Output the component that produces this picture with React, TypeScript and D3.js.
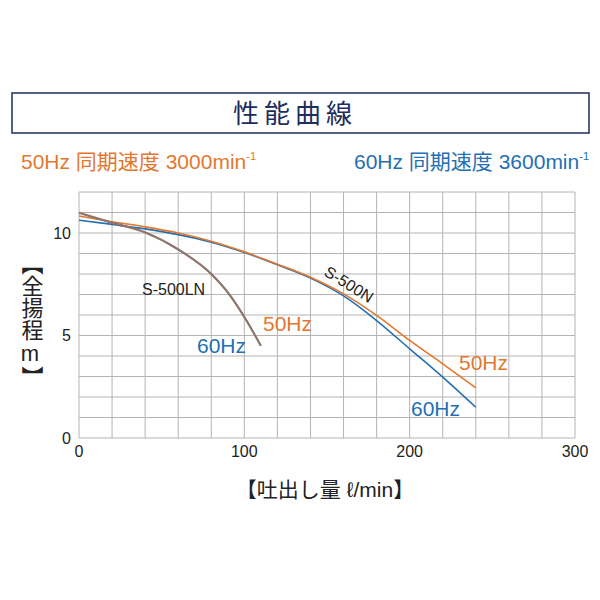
import React from 'react';
import * as d3 from 'd3';

// Performance curves (flow l/min, total head m)
const flowN = [0, 20, 40, 60, 80, 100, 120, 140, 160, 180, 200, 220, 240];
const headN50 = [10.83, 10.55, 10.3, 10.0, 9.6, 9.08, 8.48, 7.84, 7.03, 5.98, 4.76, 3.62, 2.45];
const headN60 = [10.62, 10.42, 10.2, 9.92, 9.55, 9.05, 8.45, 7.8, 6.93, 5.73, 4.35, 2.97, 1.5];

const flowLN = [0, 20, 40, 60, 80, 90, 100, 110];
const headLN50 = [11.0, 10.5, 10.03, 9.2, 8.0, 7.1, 5.9, 4.5];
const headLN60 = [10.98, 10.5, 10.03, 9.2, 8.0, 7.1, 5.9, 4.5];

const xTicks = [0, 100, 200, 300];
const yTicks = [0, 5, 10];

const ORANGE = '#e3772f';
const BLUE = '#2470b3';
const NAVY = '#1c2d5e';
const FONT = '"Liberation Sans", "Noto Sans CJK JP", sans-serif';

const App = () => {
    const x = d3.scaleLinear().domain([0, 300]).range([79, 575]);
    const y = d3.scaleLinear().domain([0, 12]).range([438, 192]);

    const line = (xs: number[], ys: number[]) =>
        d3.line<number>()
            .x((_, i) => x(xs[i]))
            .y(d => y(d))
            .curve(d3.curveMonotoneX)(ys) || '';

    const vGrid = d3.range(0, 301, 20);
    const hGrid = d3.range(0, 13, 1);

    return (
        <svg width={600} height={600} style={{ position: 'absolute', left: 0, top: 0, background: '#fff' }} fontFamily={FONT}>
            {/* title box */}
            <rect x={12} y={93} width={577} height={40} fill="none" stroke={NAVY} strokeWidth={1.5} />
            <text x={295} y={123} textAnchor="middle" fontSize={26} fontWeight={400} letterSpacing={5}
                fontFamily='"Noto Sans CJK JP", sans-serif' fill={NAVY}>性能曲線</text>

            {/* speed headers */}
            <text x={21} y={169} fontSize={21} fill={ORANGE}>
                50Hz 同期速度 3000min<tspan fontSize={11} dy={-9}>-1</tspan>
            </text>
            <text x={589} y={169} textAnchor="end" fontSize={21} fill={BLUE}>
                60Hz 同期速度 3600min<tspan fontSize={11} dy={-9}>-1</tspan>
            </text>

            {/* grid */}
            <g stroke="#b4b4b4" strokeWidth={1}>
                {vGrid.map(v => <line key={'v' + v} x1={x(v)} x2={x(v)} y1={y(0)} y2={y(12)} />)}
                {hGrid.map(h => <line key={'h' + h} x1={x(0)} x2={x(300)} y1={y(h)} y2={y(h)} />)}
            </g>

            {/* tick labels */}
            {yTicks.map(t => (
                <text key={'yt' + t} x={71} y={y(t)} dy="0.35em" textAnchor="end" fontSize={16} fill="#222">{t}</text>
            ))}
            {xTicks.map(t => (
                <text key={'xt' + t} x={x(t)} y={457} textAnchor="middle" fontSize={16} fill="#222">{t}</text>
            ))}

            {/* curves */}
            <path d={line(flowN, headN60)} fill="none" stroke={BLUE} strokeWidth={1.6} />
            <path d={line(flowN, headN50)} fill="none" stroke={ORANGE} strokeWidth={1.6} />
            <path d={line(flowLN, headLN60)} fill="none" stroke={BLUE} strokeWidth={2} />
            <path d={line(flowLN, headLN50)} fill="none" stroke={ORANGE} strokeWidth={2} strokeOpacity={0.6} />

            {/* curve labels */}
            <text x={142} y={295} fontSize={16} fill="#222">S-500LN</text>
            <text x={0} y={0} fontSize={16} fill="#222" textAnchor="middle"
                transform="translate(346,289) rotate(32)">S-500N</text>
            <text x={263} y={331} fontSize={21} fill={ORANGE}>50Hz</text>
            <text x={197} y={353} fontSize={21} fill={BLUE}>60Hz</text>
            <text x={459} y={370} fontSize={21} fill={ORANGE}>50Hz</text>
            <text x={411} y={416} fontSize={21} fill={BLUE}>60Hz</text>

            {/* axis titles */}
            <text x={30} y={320} textAnchor="middle" fontSize={22} fill="#222"
                style={{ writingMode: 'vertical-rl', textOrientation: 'upright' } as any}>【全揚程m】</text>
            <text x={325} y={497} textAnchor="middle" fontSize={21} fill="#222">【吐出し量 ℓ/min】</text>
        </svg>
    );
};

export default App;
